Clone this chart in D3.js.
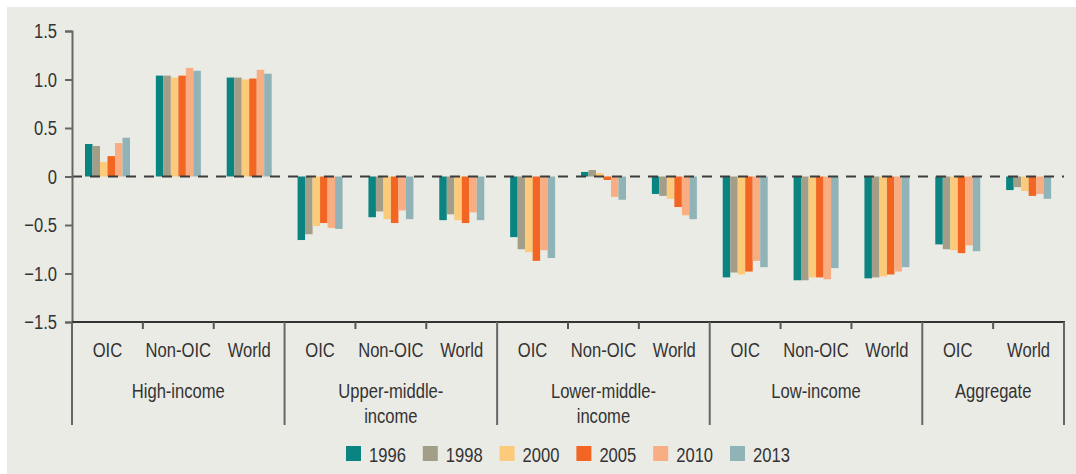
<!DOCTYPE html>
<html>
<head>
<meta charset="utf-8">
<script src="https://cdn.jsdelivr.net/npm/d3@7"></script>
<style>
  body { margin: 0; background: #fff; }
  svg text { font-family: 'Liberation Sans', Arial, sans-serif; fill: #333; }
</style>
</head>
<body>
<svg id="chart" width="1076" height="474"></svg>
<script>
const years = ['1996', '1998', '2000', '2005', '2010', '2013']
const colors = ['#0a8481', '#a39e88', '#fbcb7b', '#f26522', '#f8ae82', '#8fb3b6']

const groups = [
  { name: ['High-income'], cats: ['OIC', 'Non-OIC', 'World'] },
  { name: ['Upper-middle-', 'income'], cats: ['OIC', 'Non-OIC', 'World'] },
  { name: ['Lower-middle-', 'income'], cats: ['OIC', 'Non-OIC', 'World'] },
  { name: ['Low-income'], cats: ['OIC', 'Non-OIC', 'World'] },
  { name: ['Aggregate'], cats: ['OIC', 'World'] },
]

// one row per category, one value per year
const highOIC = [0.335, 0.315, 0.15, 0.21, 0.345, 0.4]
const highNon = [1.04, 1.04, 1.02, 1.04, 1.12, 1.09]
const highWorld = [1.02, 1.02, 1.0, 1.01, 1.1, 1.06]
const upperOIC = [-0.655, -0.595, -0.51, -0.48, -0.53, -0.54]
const upperNon = [-0.42, -0.36, -0.44, -0.48, -0.35, -0.44]
const upperWorld = [-0.45, -0.39, -0.45, -0.48, -0.37, -0.45]
const lowerOIC = [-0.625, -0.75, -0.78, -0.87, -0.76, -0.84]
const lowerNon = [0.047, 0.067, 0.036, -0.036, -0.21, -0.24]
const lowerWorld = [-0.18, -0.2, -0.23, -0.315, -0.4, -0.44]
const lowOIC = [-1.04, -0.99, -1.01, -0.98, -0.87, -0.935]
const lowNon = [-1.07, -1.07, -1.04, -1.04, -1.06, -0.945]
const lowWorld = [-1.05, -1.04, -1.03, -1.01, -0.98, -0.935]
const aggOIC = [-0.7, -0.75, -0.76, -0.79, -0.71, -0.77]
const aggWorld = [-0.14, -0.11, -0.15, -0.2, -0.18, -0.23]

const seriesRows = [
  highOIC, highNon, highWorld,
  upperOIC, upperNon, upperWorld,
  lowerOIC, lowerNon, lowerWorld,
  lowOIC, lowNon, lowWorld,
  aggOIC, aggWorld,
]

const yTicks = [1.5, 1.0, 0.5, 0, -0.5, -1.0, -1.5]

const narrow = 0.79 // condensed look from a regular face
const fs = 21

const svg = d3.select('#chart')
svg.append('rect').attr('x', 7).attr('y', 7).attr('width', 1069).attr('height', 467).attr('fill', '#ebebe6')

const left = 72, right = 1064
const y = d3.scaleLinear().domain([-1.5, 1.5]).range([322, 31])

// flatten categories
const cats = []
groups.forEach((g, gi) => g.cats.forEach((c) => cats.push({ key: gi + '-' + c, label: c, group: gi })))
cats.forEach((c, i) => (c.values = seriesRows[i]))

const x0 = d3.scaleBand().domain(cats.map((c) => c.key)).range([left, right])
const x1 = d3.scaleBand().domain(years).range([13, 58])

function label(g, x, yy, txt, anchor) {
  return g.append('text')
    .attr('transform', `translate(${x},${yy}) scale(${narrow},1)`)
    .attr('text-anchor', anchor || 'middle')
    .attr('font-size', fs)
    .text(txt)
}

// bars
const catG = svg.append('g')
  .selectAll('g')
  .data(cats)
  .join('g')
  .attr('transform', (d) => `translate(${x0(d.key)},0)`)

catG.selectAll('rect')
  .data((d) => d.values.map((v, i) => ({ v, year: years[i], i })))
  .join('rect')
  .attr('x', (d) => x1(d.year))
  .attr('width', x1.bandwidth())
  .attr('y', (d) => y(Math.max(0, d.v)))
  .attr('height', (d) => Math.abs(y(d.v) - y(0)))
  .attr('fill', (d) => colors[d.i])

// zero dashed line
svg.append('line')
  .attr('x1', left).attr('x2', right)
  .attr('y1', y(0)).attr('y2', y(0))
  .attr('stroke', '#3c3c3c').attr('stroke-width', 2)
  .attr('stroke-dasharray', '10,8')

// y axis
const yAxis = d3.axisLeft(y)
  .tickValues(yTicks)
  .tickSize(7)
  .tickFormat((d) => (d === 0 ? '0' : d3.format('.1f')(d).replace('-', '\u2013')))
const ya = svg.append('g').attr('transform', `translate(${left},0)`).call(yAxis)
ya.attr('font-family', null).attr('font-size', null)
ya.select('.domain').attr('stroke', '#666').attr('stroke-width', 2)
ya.selectAll('.tick line').attr('stroke', '#666').attr('stroke-width', 2)
ya.selectAll('.tick text')
  .attr('x', 0)
  .attr('font-size', fs)
  .attr('transform', `translate(-15,0) scale(${narrow},1)`)

// x axis line
svg.append('line')
  .attr('x1', left).attr('x2', right + 1)
  .attr('y1', 322).attr('y2', 322)
  .attr('stroke', '#333').attr('stroke-width', 2)

// category ticks (short) and group dividers (long)
const boundaries = []
let idx = 0
groups.forEach((g) => {
  boundaries.push(x0(cats[idx].key))
  idx += g.cats.length
})
boundaries.push(right)

cats.forEach((c, i) => {
  const xs = x0(c.key)
  if (i > 0 && !boundaries.includes(xs)) {
    svg.append('line')
      .attr('x1', xs).attr('x2', xs).attr('y1', 322).attr('y2', 329)
      .attr('stroke', '#555').attr('stroke-width', 2)
  }
})

svg.append('g')
  .selectAll('line')
  .data(boundaries)
  .join('line')
  .attr('x1', (d) => d).attr('x2', (d) => d)
  .attr('y1', 322).attr('y2', 425)
  .attr('stroke', '#666').attr('stroke-width', 2)

// category labels
const catLabels = svg.append('g')
cats.forEach((c) => label(catLabels, x0(c.key) + x0.bandwidth() / 2, 357, c.label))

// group labels
const groupLabels = svg.append('g')
groups.forEach((g, gi) => {
  const cx = (boundaries[gi] + boundaries[gi + 1]) / 2
  g.name.forEach((line, li) => label(groupLabels, cx, 398 + li * 25, line))
})

// legend
const legend = svg.append('g')
  .selectAll('g')
  .data(years)
  .join('g')
  .attr('transform', (d, i) => `translate(${346 + i * 76.8},446)`)
legend.append('rect')
  .attr('width', 15).attr('height', 15)
  .attr('fill', (d, i) => colors[i])
legend.each(function (d) {
  label(d3.select(this), 23, 15.5, d, 'start')
})
</script>
</body>
</html>
